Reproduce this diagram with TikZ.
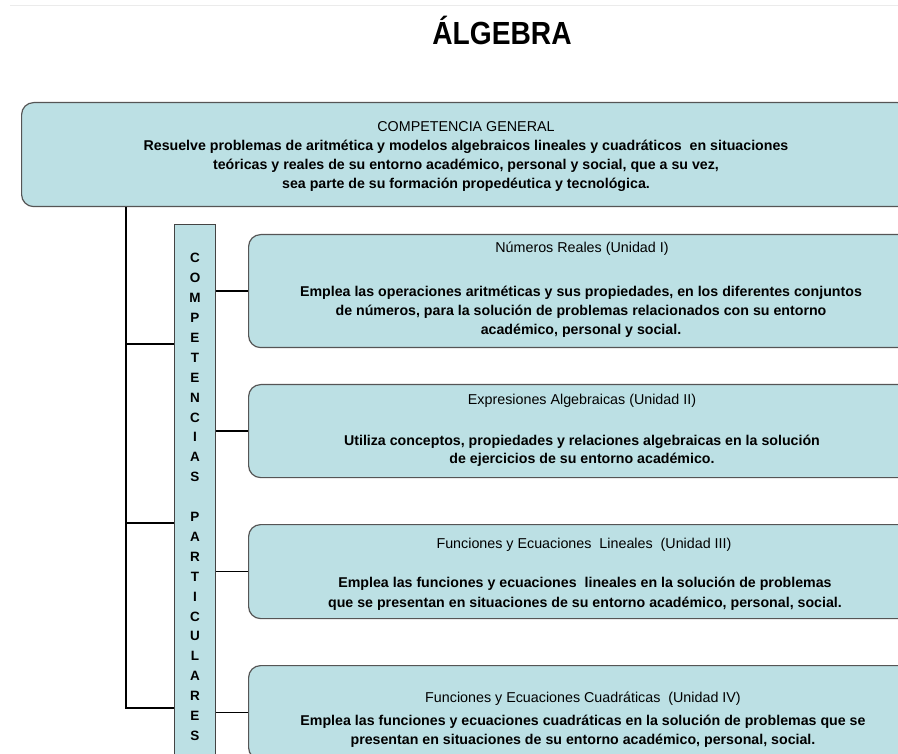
\documentclass[tikz,border=0pt]{standalone}
\usepackage{fontspec}
\setmainfont{Liberation Sans}
\definecolor{boxfill}{RGB}{188,224,228}
\definecolor{boxline}{RGB}{85,85,85}
\begin{document}
\begin{tikzpicture}[x=1pt,y=-1pt,
  box/.style={draw=boxline, fill=boxfill, line width=1.2pt, rounded corners=12pt, inner sep=0pt, anchor=north west},
  vbox/.style={draw=boxline!80!black, fill=boxfill, line width=1.2pt, inner sep=0pt, anchor=north west},
  conn/.style={draw=black, line width=1.6pt},
  spine/.style={draw=black, line width=2.6pt},
  ttl/.style={font=\fontsize{14.3}{16}\selectfont, anchor=base, inner sep=0pt},
  txt/.style={font=\fontsize{14.2}{16}\selectfont\bfseries, anchor=base, inner sep=0pt},
]
\clip (0,0) rectangle (898,754);
\fill[white] (0,0) rectangle (898,754);
\draw[black!8, line width=1pt] (10,5.5) -- (898,5.5);

\node[anchor=base, inner sep=0pt] (title) at (502,45) {\scalebox{0.88}[1]{\fontsize{32}{34}\selectfont\bfseries ÁLGEBRA}};

% general competence box
\node[box, minimum width=888, minimum height=104] (gen) at (21,102) {};
\node[ttl] (g0) at (466,132) {COMPETENCIA GENERAL};
\node[txt] (g1) at (466,151) {Resuelve problemas de aritmética y modelos algebraicos lineales y cuadráticos~ en situaciones};
\node[txt] (g2) at (466,170) {teóricas y reales de su entorno académico, personal y social, que a su vez,};
\node[txt] (g3) at (466,189) {sea parte de su formación propedéutica y tecnológica.};

% vertical box
\node[vbox, minimum width=41, minimum height=540] (cp) at (174,224) {};
\node[align=center, inner sep=0pt, font=\fontsize{13.5}{19.9}\selectfont\bfseries] (cpt) at (195,497)
 {C\\O\\M\\P\\E\\T\\E\\N\\C\\I\\A\\S\\\mbox{}\\P\\A\\R\\T\\I\\C\\U\\L\\A\\R\\E\\S};

% unit boxes
\node[box, minimum width=668, minimum height=113] (u1) at (248,234) {};
\node[box, minimum width=668, minimum height=93] (u2) at (248,384) {};
\node[box, minimum width=668, minimum height=94] (u3) at (248,524) {};
\node[box, minimum width=668, minimum height=94] (u4) at (248,665) {};

\node[ttl] (u1a) at (582,253) {Números Reales (Unidad I)};
\node[txt] (u1b) at (581,297) {Emplea las operaciones aritméticas y sus propiedades, en los diferentes conjuntos};
\node[txt] (u1c) at (581,316) {de números, para la solución de problemas relacionados con su entorno};
\node[txt] (u1d) at (581,335) {académico, personal y social.};

\node[ttl] (u2a) at (582,404) {Expresiones Algebraicas (Unidad II)};
\node[txt] (u2b) at (582,445) {Utiliza conceptos, propiedades y relaciones algebraicas en la solución};
\node[txt] (u2c) at (582,464) {de ejercicios de su entorno académico.};

\node[ttl] (u3a) at (584,548) {Funciones y Ecuaciones~ Lineales~ (Unidad III)};
\node[txt] (u3b) at (585,587) {Emplea las funciones y ecuaciones~ lineales en la solución de problemas};
\node[txt] (u3c) at (585,607) {que se presentan en situaciones de su entorno académico, personal, social.};

\node[ttl] (u4a) at (583,702) {Funciones y Ecuaciones Cuadráticas~ (Unidad IV)};
\node[txt] (u4b) at (583,725) {Emplea las funciones y ecuaciones cuadráticas en la solución de problemas que se};
\node[txt] (u4c) at (583,744) {presentan en situaciones de su entorno académico, personal, social.};

% connectors
\coordinate (j1) at (126,344);
\coordinate (j2) at (126,523);
\coordinate (j3) at (126,708);
\draw[spine] (gen.south -| j3) -- (j3) -- (cp.west |- j3);
\draw[conn] (j1) -- (cp.west |- j1);
\draw[conn] (j2) -- (cp.west |- j2);
\draw[conn] (cp.east |- u1.west) -- (u1.west);
\draw[conn] (cp.east |- u2.west) -- (u2.west);
\draw[conn] (cp.east |- u3.west) -- (u3.west);
\draw[conn] (cp.east |- u4.west) -- (u4.west);
\end{tikzpicture}
\end{document}
